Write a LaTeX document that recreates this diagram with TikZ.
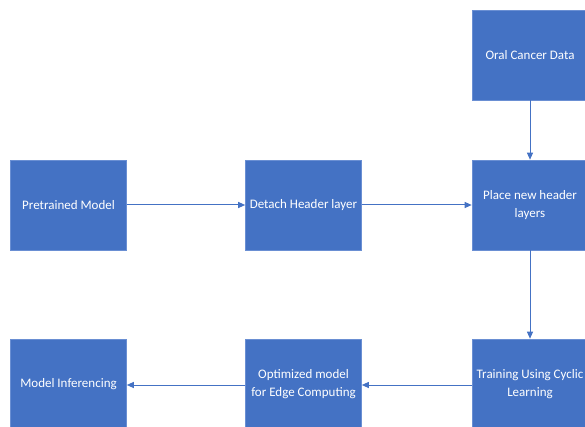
\documentclass[tikz,border=0pt]{standalone}
\usepackage{fontspec}
\setmainfont{Carlito}
\usetikzlibrary{arrows.meta}
\definecolor{boxblue}{HTML}{4472C4}
\definecolor{boxedge}{HTML}{6A8FD3}
\tikzset{
  stepbox/.style={draw=boxedge, line width=0.6pt, fill=boxblue, text=white,
    minimum width=116pt, minimum height=90pt, inner sep=1pt, align=center,
    font=\fontsize{13}{18}\selectfont, anchor=center},
  flow/.style={draw=boxblue, line width=1pt, -{Triangle[length=7pt,width=6pt]}}
}
\begin{document}
\begin{tikzpicture}[x=1pt,y=-1pt]
\useasboundingbox (0,0) rectangle (585,427);
\begin{scope}
\clip (0,0) rectangle (585,427);
\node[stepbox] (oral) at (530,55) {Oral Cancer Data};
\node[stepbox] (pre) at (68.5,205) {Pretrained Model};
\node[stepbox] (det) at (303.5,205) {Detach Header layer};
\node[stepbox] (place) at (530,205) {Place new header\\layers};
\node[stepbox] (inf) at (68.5,384) {Model Inferencing};
\node[stepbox] (opt) at (303.5,384) {Optimized model\\for Edge Computing};
\node[stepbox] (train) at (530,384) {Training Using Cyclic\\Learning};
\draw[flow] (oral) -- (place);
\draw[flow] (pre) -- (det);
\draw[flow] (det) -- (place);
\draw[flow] (place) -- (train);
\draw[flow] (train.west |- 0,385) -- (opt.east |- 0,385);
\draw[flow] (opt.west |- 0,385) -- (inf.east |- 0,385);
\end{scope}
\end{tikzpicture}
\end{document}
